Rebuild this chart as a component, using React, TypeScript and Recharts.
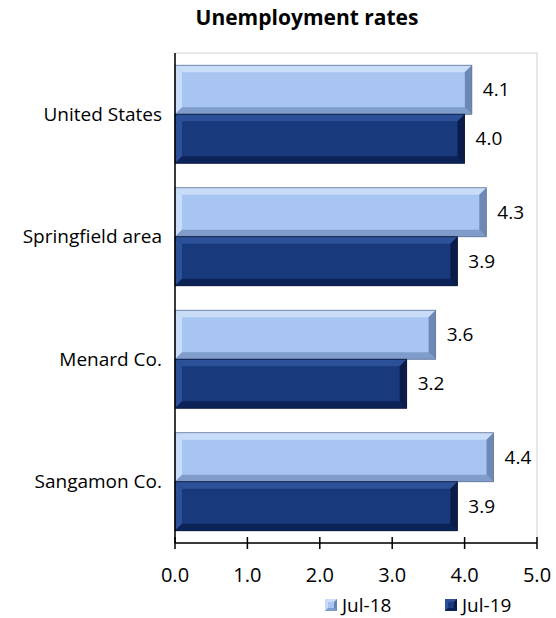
import React from "react";
import {
  BarChart,
  Bar,
  XAxis,
  YAxis,
  LabelList,
  Legend,
  ReferenceArea,
} from "recharts";

const categories = ["United States", "Springfield area", "Menard Co.", "Sangamon Co."];
const jul18 = [4.1, 4.3, 3.6, 4.4];
const jul19 = [4.0, 3.9, 3.2, 3.9];
const xTicks = [0, 1, 2, 3, 4, 5];

const data = categories.map((name, i) => ({ name, jul18: jul18[i], jul19: jul19[i] }));

const FONT = "'Open Sans', 'Noto Sans', sans-serif";

// bevel colours: face, top/left edge, bottom/right edge
const palette: Record<string, { face: string; hi: string; lo: string; side: string; line: string }> = {
  jul18: { face: "#A8C5F1", hi: "#C9DCF8", lo: "#7F9CCB", side: "#6E88B5", line: "#5F7396" },
  jul19: { face: "#18397C", hi: "#2D5199", lo: "#0C2358", side: "#0A1C47", line: "#071536" },
};

const bevelBar = (key: string) => (props: any) => {
  const { x, y, width, height } = props;
  if (!width || width <= 0) return <g />;
  const c = palette[key];
  const b = Math.min(7, height / 3);
  const r = x + width;
  const bt = y + height;
  return (
    <g>
      <rect x={x} y={y} width={width} height={height} fill={c.face} />
      <polygon points={`${x},${y} ${r},${y} ${r - b},${y + b} ${x + b},${y + b}`} fill={c.hi} />
      <polygon points={`${x},${y} ${x + b},${y + b} ${x + b},${bt - b} ${x},${bt}`} fill={c.hi} />
      <polygon points={`${x},${bt} ${x + b},${bt - b} ${r - b},${bt - b} ${r},${bt}`} fill={c.lo} />
      <polygon points={`${r},${y} ${r},${bt} ${r - b},${bt - b} ${r - b},${y + b}`} fill={c.side} />
      <rect x={x} y={y} width={width} height={height} fill="none" stroke={c.line} strokeWidth={0.8} />
    </g>
  );
};

const XTick = (props: any) => {
  const { x, y, payload } = props;
  return (
    <g>
      <line x1={x} x2={x} y1={y - 12} y2={y} stroke="#000" strokeWidth={1.5} />
      <text x={x} y={y + 33} textAnchor="middle" fontSize={20} fontFamily={FONT} fill="#000">
        {Number(payload.value).toFixed(1)}
      </text>
    </g>
  );
};

const LegendIcon = ({ k }: { k: string }) => {
  const c = palette[k];
  return (
    <svg width={12} height={12} style={{ marginRight: 5 }}>
      <rect x={0} y={0} width={12} height={12} fill={c.face} />
      <polygon points="0,0 12,0 9,3 3,3" fill={c.hi} />
      <polygon points="0,0 3,3 3,9 0,12" fill={c.hi} />
      <polygon points="0,12 3,9 9,9 12,12" fill={c.lo} />
      <polygon points="12,0 12,12 9,9 9,3" fill={c.side} />
    </svg>
  );
};

const renderLegend = () => (
  <div style={{ display: "flex", alignItems: "center", height: 22, fontFamily: FONT, fontSize: 19, lineHeight: "22px", color: "#000" }}>
    <div style={{ display: "flex", alignItems: "center", width: 120 }}>
      <LegendIcon k="jul18" />
      <span>Jul-18</span>
    </div>
    <div style={{ display: "flex", alignItems: "center" }}>
      <LegendIcon k="jul19" />
      <span>Jul-19</span>
    </div>
  </div>
);

export default function App() {
  return (
    <div style={{ position: "absolute", left: 0, top: 0, width: 556, height: 618, background: "#fff" }}>
      <div
        style={{
          position: "absolute",
          top: 3,
          left: 157,
          width: 300,
          textAlign: "center",
          fontFamily: FONT,
          fontWeight: 700,
          fontSize: 21,
          lineHeight: "28px",
          color: "#000",
        }}
      >
        Unemployment rates
      </div>
      <BarChart
        width={556}
        height={618}
        data={data}
        layout="vertical"
        margin={{ top: 53, right: 19, bottom: 0, left: 0 }}
        barCategoryGap="10%"
        barGap={0}
      >
        <ReferenceArea x1={0} x2={5} fill="none" stroke="#D0D0D0" strokeWidth={1} />
        <XAxis
          type="number"
          domain={[0, 5]}
          ticks={xTicks}
          height={75}
          axisLine={{ stroke: "#000", strokeWidth: 1.5 }}
          tickLine={false}
          tickSize={6}
          tickMargin={0}
          tick={<XTick />}
        />
        <YAxis
          type="category"
          dataKey="name"
          width={175}
          axisLine={{ stroke: "#000", strokeWidth: 1.5 }}
          tickLine={false}
          tickMargin={7}
          tick={{ fontSize: 19, fontFamily: FONT, fill: "#000" }}
        />
        <Legend
          layout="horizontal"
          verticalAlign="middle"
          align="center"
          wrapperStyle={{ top: 594, left: 325, width: "auto", lineHeight: "22px" }}
          content={renderLegend}
        />
        <Bar dataKey="jul18" name="Jul-18" fill={palette.jul18.face} shape={bevelBar("jul18")} isAnimationActive={false}>
          <LabelList
            dataKey="jul18"
            position="right"
            offset={11}
            formatter={(v: any) => Number(v).toFixed(1)}
            style={{ fontSize: 19, fontFamily: FONT, fill: "#000" }}
          />
        </Bar>
        <Bar dataKey="jul19" name="Jul-19" fill={palette.jul19.face} shape={bevelBar("jul19")} isAnimationActive={false}>
          <LabelList
            dataKey="jul19"
            position="right"
            offset={11}
            formatter={(v: any) => Number(v).toFixed(1)}
            style={{ fontSize: 19, fontFamily: FONT, fill: "#000" }}
          />
        </Bar>
      </BarChart>
    </div>
  );
}
